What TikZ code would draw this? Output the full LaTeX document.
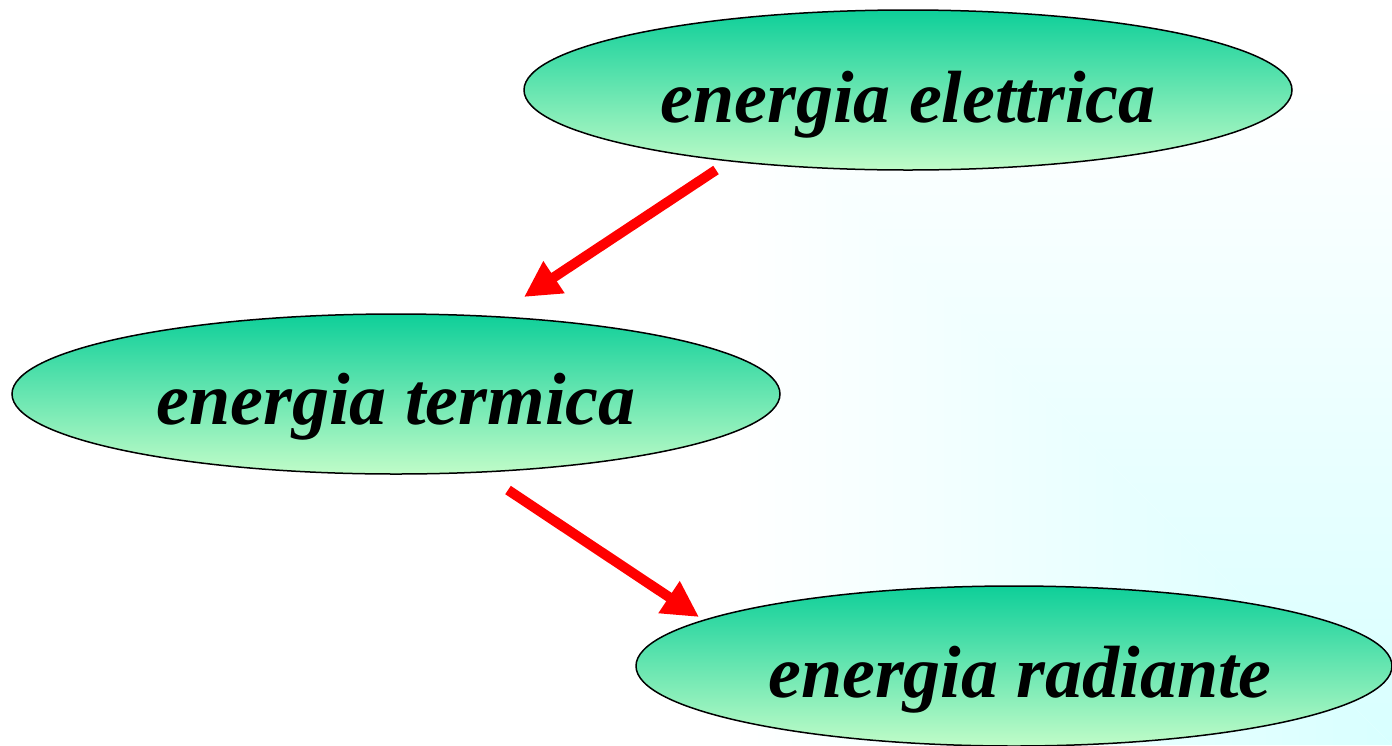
\documentclass[tikz,border=0pt]{standalone}
\usepackage{fontspec}
\setmainfont{Liberation Serif}
\usetikzlibrary{shapes.geometric,arrows.meta}
\definecolor{elltop}{RGB}{14,207,153}
\definecolor{ellbot}{RGB}{192,252,200}
\definecolor{bgcorner}{RGB}{216,255,255}
\tikzset{
  enbox/.style={ellipse, draw=black, line width=0.75pt, top color=elltop, bottom color=ellbot,
    minimum width=384pt, minimum height=80pt, inner sep=0pt},
  enlabel/.style={anchor=base, inner sep=0pt, font=\fontsize{37pt}{40pt}\selectfont\bfseries\itshape},
  redarrow/.style={draw=red, line width=5pt, line cap=butt,
    -{Triangle[length=18pt,width=18pt]}}
}
\begin{document}
\begin{tikzpicture}[x=0.5pt,y=-0.5pt]
\useasboundingbox (0,0) rectangle (1392,745);
% background: "from corner" gradient (white -> light cyan at bottom right)
\fill[white] (0,0) rectangle (1392,745);
\begin{scope}
  \clip (647,0) -- (0,0) -- (0,745) -- (1392,745) -- cycle;
  \shade[left color=white, right color=bgcorner] (732,-1) rectangle (1392,746);
\end{scope}
\begin{scope}
  \clip (647,0) -- (1392,0) -- (1392,745) -- cycle;
  \shade[top color=white, bottom color=bgcorner] (646,85) rectangle (1393,745);
\end{scope}
\node[enbox] (el) at (908,90) {};
\node[enlabel] (elt) at ([yshift=-16pt]el.center) {energia elettrica};
\node[enbox] (te) at (396,394) {};
\node[enlabel] (tet) at ([yshift=-15pt]te.center) {energia termica};
\node[enbox, minimum width=378pt] (ra) at (1014,666) {};
\node[enlabel] (rat) at ([xshift=3pt,yshift=-15.5pt]ra.center) {energia radiante};
\coordinate (a1s) at (716,170);
\coordinate (a1e) at (524,297);
\coordinate (a2s) at (508,490);
\coordinate (a2e) at (699,617);
\draw[redarrow] (a1s) -- (a1e);
\draw[redarrow] (a2s) -- (a2e);
\end{tikzpicture}
\end{document}
